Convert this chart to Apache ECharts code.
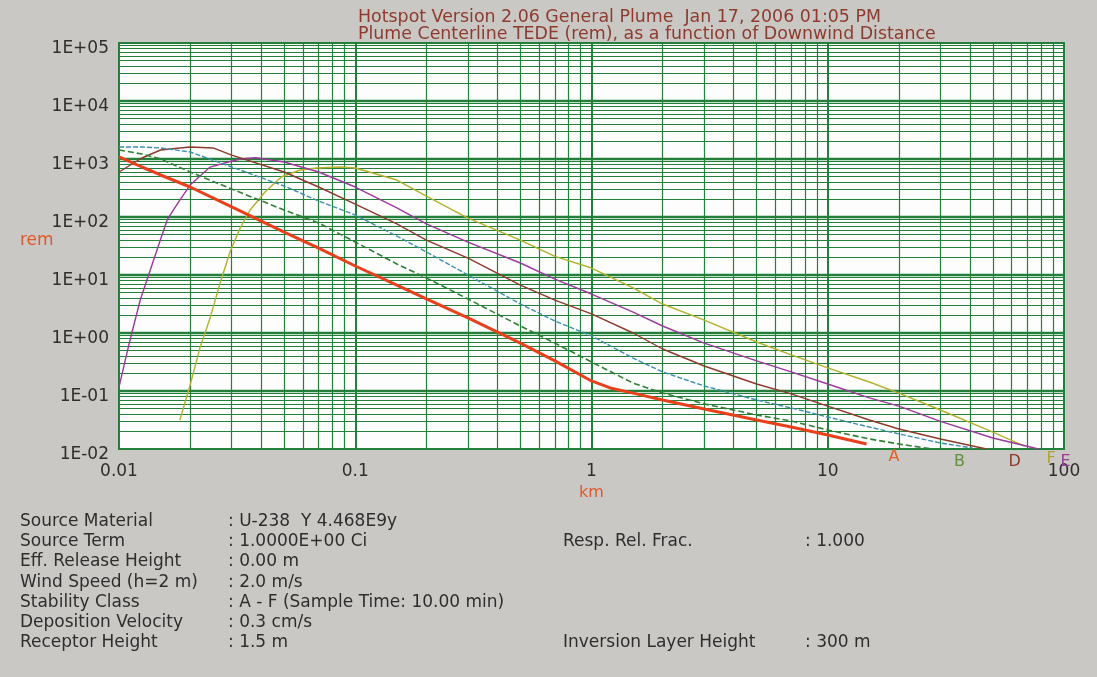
<!DOCTYPE html>
<html>
<head>
<meta charset="utf-8">
<script src="https://cdn.jsdelivr.net/npm/echarts@6/dist/echarts.min.js"></script>
<style>
  html, body { margin: 0; padding: 0; background: #cac8c5; }
  #chart { width: 1097px; height: 677px; }
</style>
</head>
<body>
<div id="chart"></div>
<script>
// Plume centerline TEDE (rem) vs downwind distance (km), stability classes A-F
const classA = [[0.01,1090],[0.0125,728],[0.015,530],[0.02,329],[0.03,149],[0.05,55],[0.07,29],[0.1,14.3],[0.15,6.7],[0.2,3.86],[0.3,1.82],[0.5,0.67],[0.7,0.33],[1,0.149],[1.2,0.113],[1.5,0.092],[2,0.070],[3,0.049],[5,0.0316],[7,0.0239],[10,0.0174],[14.6,0.0122]];
const classB = [[0.01,1430],[0.0125,1220],[0.015,1000],[0.02,597],[0.03,304],[0.05,132],[0.07,79],[0.1,37],[0.15,15.5],[0.2,8.9],[0.3,3.86],[0.5,1.32],[0.7,0.67],[1,0.316],[1.5,0.137],[2,0.092],[3,0.060],[5,0.0386],[7,0.0304],[10,0.0213],[15,0.0149],[20,0.0122],[27.6,0.01]];
const classC = [[0.01,1610],[0.0125,1610],[0.015,1550],[0.02,1320],[0.03,728],[0.05,342],[0.07,189],[0.1,108],[0.15,47],[0.2,25],[0.3,10],[0.5,3.16],[0.7,1.61],[1,0.89],[1.5,0.37],[2,0.213],[3,0.122],[5,0.070],[7,0.051],[10,0.0356],[15,0.0239],[20,0.0182],[30,0.0127],[41,0.0104]];
const classD = [[0.01,597],[0.0125,1040],[0.015,1430],[0.02,1610],[0.025,1550],[0.03,1170],[0.05,597],[0.07,329],[0.1,167],[0.15,76],[0.2,40],[0.3,19.6],[0.5,6.7],[0.7,3.7],[1,2.13],[1.5,1.0],[2,0.53],[3,0.27],[5,0.132],[7,0.089],[10,0.055],[15,0.0316],[20,0.0221],[30,0.0149],[47,0.01]];
const classE = [[0.01,0.117],[0.011,0.62],[0.0123,3.7],[0.014,18],[0.016,90],[0.018,189],[0.02,355],[0.0243,725],[0.028,853],[0.0326,1000],[0.038,1050],[0.05,887],[0.07,597],[0.1,329],[0.15,143],[0.2,76],[0.3,37],[0.5,16.1],[0.7,8.5],[1,4.7],[1.5,2.3],[2,1.32],[3,0.67],[5,0.33],[7,0.213],[10,0.132],[15,0.076],[20,0.055],[30,0.030],[50,0.0155],[78,0.01]];
const classF = [[0.0181,0.0316],[0.02,0.127],[0.022,0.55],[0.0243,1.82],[0.0268,7.3],[0.0295,25],[0.0326,65],[0.0359,132],[0.0415,270],[0.0486,490],[0.0584,646],[0.0684,700],[0.0863,728],[0.1,700],[0.15,434],[0.2,230],[0.3,96],[0.5,40],[0.7,21],[1,13.2],[1.5,6.0],[2,3.16],[3,1.67],[5,0.70],[7,0.42],[10,0.25],[15,0.143],[20,0.092],[30,0.047],[50,0.0196],[68,0.0112]];

// axis ranges and tick labels
const xRange = [0.01, 100];
const yRange = [0.01, 100000];
const xTickLabels = ['0.01', '0.1', '1', '10', '100'];
const yTickLabels = ['1E-02', '1E-01', '1E+00', '1E+01', '1E+02', '1E+03', '1E+04', '1E+05'];

// text block under the plot
const infoLabels = ['Source Material', 'Source Term', 'Eff. Release Height', 'Wind Speed (h=2 m)', 'Stability Class', 'Deposition Velocity', 'Receptor Height'];
const infoValues = [': U-238  Y 4.468E9y', ': 1.0000E+00 Ci', ': 0.00 m', ': 2.0 m/s', ': A - F (Sample Time: 10.00 min)', ': 0.3 cm/s', ': 1.5 m'];
const sideLabels = [['Resp. Rel. Frac.', ': 1.000', 1], ['Inversion Layer Height', ': 300 m', 6]];

const titleLines = ['Hotspot Version 2.06 General Plume  Jan 17, 2006 01:05 PM', 'Plume Centerline TEDE (rem), as a function of Downwind Distance'];
const yUnit = 'rem';
const xUnit = 'km';

const FONT = 'DejaVu Sans';
const GRID_GREEN = '#23803a';
const TEXT = '#2e2e2e';
const UNIT_COLOR = '#e0582a';

// log-paper rulings: 1..9 x 10^n in each decade
function rulings(lo, hi) {
  const out = [];
  for (let e = Math.round(Math.log10(lo)); e < Math.round(Math.log10(hi)); e++) {
    for (let k = 1; k <= 9; k++) out.push({ v: k * Math.pow(10, e), major: k === 1 });
  }
  return out;
}
const xRules = rulings(xRange[0], xRange[1]).filter(r => r.v > xRange[0]);
const yRules = rulings(yRange[0], yRange[1]).filter(r => r.v > yRange[0]);

const ruleLines = [];
xRules.forEach(r => ruleLines.push({ xAxis: r.v, lineStyle: { width: r.major ? 2 : 1.2 } }));
yRules.forEach(r => ruleLines.push({ yAxis: r.v, lineStyle: { width: r.major ? 2.4 : 1.2 } }));

function curve(name, data, color, width, labelText, labelColor, dash) {
  return {
    name, type: 'line', data, showSymbol: false, smooth: false,
    z: 5,
    lineStyle: { color, width, type: dash || 'solid' },
    endLabel: labelText ? {
      show: true, formatter: labelText, color: labelColor, fontFamily: FONT, fontSize: 16,
      offset: [14, 13]
    } : { show: false }
  };
}

const ROW0 = 513, ROWH = 20.2, INFO_SIZE = 17;
const graphics = [];
function addText(x, y, t, color) {
  graphics.push({ type: 'text', left: x, top: y, style: { text: t, fontFamily: FONT, fontSize: INFO_SIZE, fill: color || TEXT } });
}
infoLabels.forEach((t, i) => {
  addText(20, ROW0 + i * ROWH, t);
  addText(228, ROW0 + i * ROWH, infoValues[i]);
});
sideLabels.forEach(s => {
  addText(563, ROW0 + s[2] * ROWH, s[0]);
  addText(805, ROW0 + s[2] * ROWH, s[1]);
});
// unit caption beside the value axis
addText(20, 232, yUnit, UNIT_COLOR);

const chart = echarts.init(document.getElementById('chart'), null, { renderer: 'canvas' });
chart.setOption({
  backgroundColor: '#cac8c5',
  animation: false,
  title: {
    text: titleLines.join('\n'), left: 358, top: 9, padding: 0,
    textStyle: { fontFamily: FONT, fontSize: 17.4, fontWeight: 'normal', color: '#8e3b2e', lineHeight: 17 }
  },
  grid: { left: 119, right: 33, top: 43, bottom: 228, show: true, backgroundColor: '#fdfdfd', borderColor: GRID_GREEN, borderWidth: 2 },
  xAxis: {
    type: 'log', logBase: 10, min: xRange[0], max: xRange[1],
    name: xUnit, nameLocation: 'middle', nameGap: 27,
    nameTextStyle: { color: UNIT_COLOR, fontFamily: FONT, fontSize: 16 },
    axisLine: { show: false }, axisTick: { show: false }, splitLine: { show: false },
    axisLabel: { margin: 14, color: TEXT, fontFamily: FONT, fontSize: 17,
      formatter: v => xTickLabels[Math.round(Math.log10(v) - Math.log10(xRange[0]))] }
  },
  yAxis: {
    type: 'log', logBase: 10, min: yRange[0], max: yRange[1],
    axisLine: { show: false }, axisTick: { show: false }, splitLine: { show: false },
    axisLabel: { margin: 10, color: TEXT, fontFamily: FONT, fontSize: 17,
      verticalAlign: 'top', lineHeight: 11,
      formatter: v => yTickLabels[Math.round(Math.log10(v) - Math.log10(yRange[0]))] }
  },
  graphic: graphics,
  series: [
    {
      name: 'rulings', type: 'line', data: [], silent: true, z: 1,
      markLine: { silent: true, symbol: 'none', label: { show: false },
        lineStyle: { color: GRID_GREEN, type: 'solid', width: 1.2 }, data: ruleLines }
    },
    curve('F', classF, '#b3b12c', 1.4, 'F', '#b0a23a'),
    curve('E', classE, '#9a3a9c', 1.4, 'E', '#9a3a9c'),
    curve('D', classD, '#8c3a2c', 1.4, 'D', '#8c3a2c'),
    curve('C', classC, '#3b8fae', 1.4, null, null, [5, 2]),
    curve('B', classB, '#2f7f34', 1.6, 'B', '#5f8f3f', [6, 3]),
    curve('A', classA, '#e8401c', 3, 'A', '#e0602a')
  ]
});
</script>
</body>
</html>
